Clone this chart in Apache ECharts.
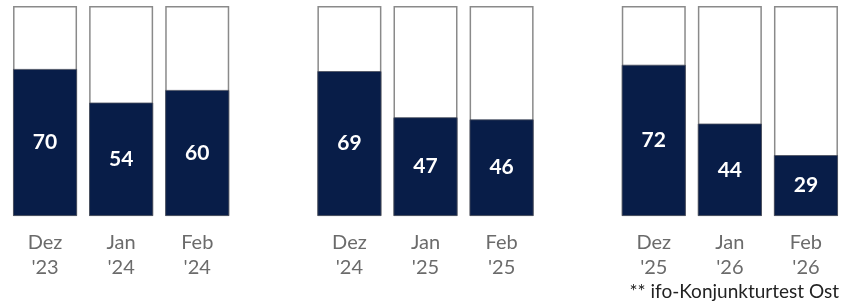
<!DOCTYPE html>
<html>
<head>
<meta charset="utf-8">
<script src="https://cdn.jsdelivr.net/npm/echarts@6/dist/echarts.min.js"></script>
<style>
  html, body { margin: 0; padding: 0; background: #fff; }
  #chart { width: 844px; height: 303px; }
</style>
</head>
<body>
<div id="chart"></div>
<script>
// months shown under the bars, three groups of three
const months = ["Dez\n'23", "Jan\n'24", "Feb\n'24", "Dez\n'24", "Jan\n'25", "Feb\n'25", "Dez\n'25", "Jan\n'26", "Feb\n'26"];
const values = [70, 54, 60, 69, 47, 46, 72, 44, 29];
const scaleMax = 100;
const groupSize = 3;

// insert an empty slot between groups
const cats = [];
const fill = [];
const frame = [];
months.forEach((m, i) => {
  if (i > 0 && i % groupSize === 0) {
    cats.push('');
    fill.push(null);
    frame.push(null);
  }
  cats.push(m);
  fill.push(values[i]);
  frame.push(scaleMax);
});

const chart = echarts.init(document.getElementById('chart'));
chart.setOption({
  animation: false,
  grid: { left: 7, right: -4, top: 6, bottom: 87 },
  xAxis: {
    type: 'category',
    data: cats,
    axisLine: { show: false },
    axisTick: { show: false },
    axisLabel: {
      interval: 0,
      margin: 14,
      color: '#6b6b6b',
      fontFamily: 'Lato',
      fontSize: 20,
      lineHeight: 25
    }
  },
  yAxis: {
    type: 'value',
    min: 0,
    max: scaleMax,
    show: false,
    splitLine: { show: false }
  },
  series: [
    {
      type: 'bar',
      data: frame,
      barWidth: 64,
      silent: true,
      itemStyle: { color: '#ffffff', borderColor: '#8a8a8a', borderWidth: 1.5 }
    },
    {
      type: 'bar',
      data: fill,
      barWidth: 64,
      barGap: '-100%',
      itemStyle: { color: '#081d48', borderColor: '#4a4f5e', borderWidth: 0.8 },
      label: {
        show: true,
        position: 'inside',
        color: '#ffffff',
        fontFamily: 'Lato',
        fontWeight: 'bold',
        fontSize: 21
      }
    }
  ],
  graphic: [
    {
      type: 'text',
      right: 5,
      bottom: 2,
      style: {
        text: '** ifo-Konjunkturtest Ost',
        fill: '#222222',
        font: '19px Lato'
      }
    }
  ]
});
</script>
</body>
</html>
